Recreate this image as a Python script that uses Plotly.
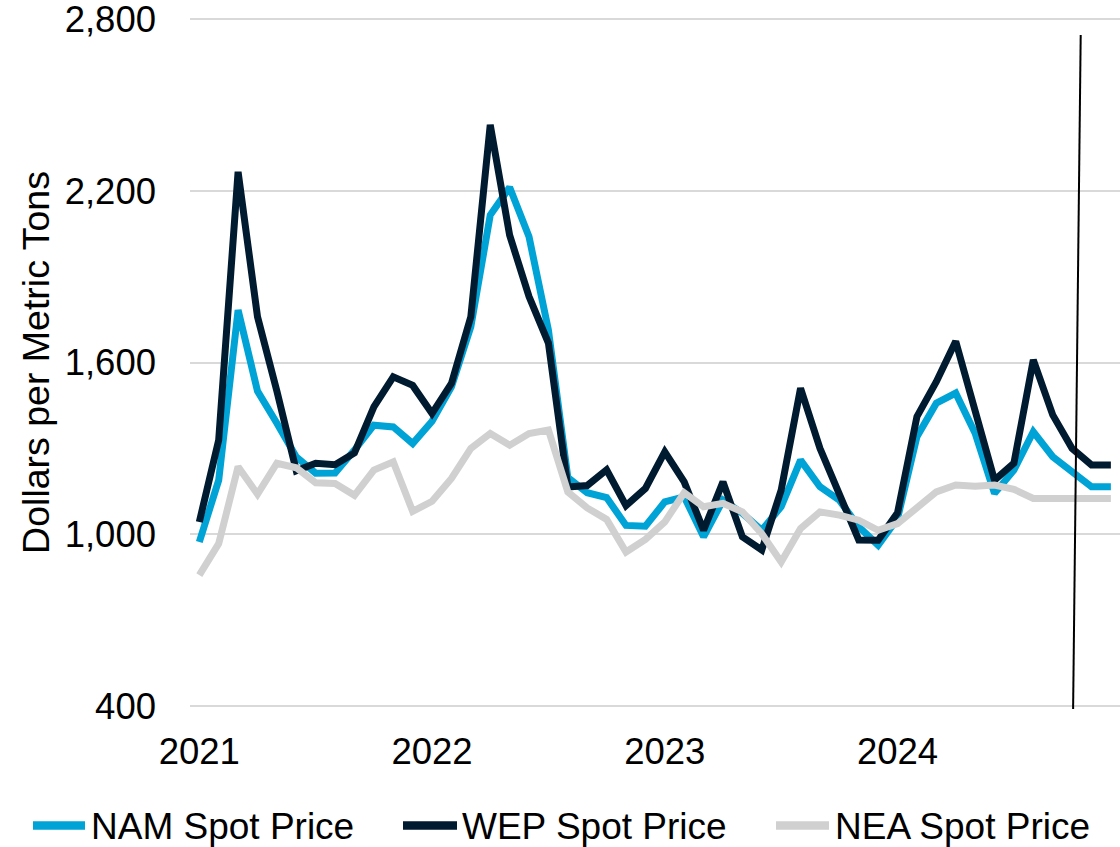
import plotly.graph_objects as go

# ---- data ----
months = [f"{y}-{m:02d}" for y in (2021, 2022, 2023, 2024) for m in range(1, 13)]

nam = [973, 1189, 1783, 1500, 1388, 1270, 1213, 1214, 1294, 1381, 1375, 1317,
       1395, 1515, 1725, 2115, 2212, 2039, 1713, 1198, 1145, 1128, 1031, 1028,
       1113, 1131, 991, 1119, 1073, 1014, 1096, 1259, 1166, 1119, 1026, 962,
       1055, 1341, 1458, 1493, 1353, 1143, 1224, 1358, 1271, 1219, 1166, 1166]

wep = [1043, 1329, 2266, 1760, 1500, 1222, 1248, 1243, 1284, 1445, 1550, 1520,
       1422, 1527, 1760, 2430, 2045, 1830, 1668, 1165, 1170, 1225, 1100, 1160,
       1288, 1183, 1014, 1183, 991, 945, 1154, 1510, 1300, 1140, 980, 979,
       1075, 1411, 1533, 1674, 1434, 1189, 1248, 1609, 1417, 1300, 1242, 1242]

nea = [857, 967, 1236, 1140, 1248, 1232, 1180, 1177, 1136, 1224, 1253, 1080,
       1115, 1195, 1300, 1352, 1311, 1352, 1364, 1148, 1092, 1052, 938, 982,
       1043, 1145, 1096, 1108, 1078, 1002, 903, 1020, 1078, 1067, 1049, 1014,
       1037, 1096, 1148, 1172, 1168, 1172, 1157, 1125, 1123, 1123, 1125, 1125]

series_names = ["NAM Spot Price", "WEP Spot Price", "NEA Spot Price"]
series_colors = ["#00A3D6", "#001A30", "#CFD0CF"]

x_tickvals = ["2021-01", "2022-01", "2023-01", "2024-01"]
x_ticktext = ["2021", "2022", "2023", "2024"]
y_tickvals = [400, 1000, 1600, 2200, 2800]

# ---- layout geometry ----
W, H = 1120, 847
ML, MR, MT, MB = 190, 0, 16, 138
PW, PH = W - ML - MR, H - MT - MB
Y_PAD = 3 * 2400 / 687.0          # 3 px of headroom in data units
FONT = "Liberation Sans, Arial, sans-serif"


def px_x(px):
    return (px - ML) / PW


def px_y(py):
    return (H - MB - py) / PH


fig = go.Figure()
for vals, name, col in zip([nam, wep, nea], series_names, series_colors):
    fig.add_trace(go.Scatter(x=months, y=vals, mode="lines", name=name,
                             line=dict(color=col, width=7),
                             showlegend=False))

shapes = []
annotations = []
# vertical marker line
shapes.append(dict(type="line", xref="paper", yref="paper",
                   x0=px_x(1080.7), y0=px_y(35), x1=px_x(1073.1), y1=px_y(709),
                   line=dict(color="black", width=2)))

# custom legend
legend_pos = [(30, 88, 89), (400, 460, 460), (773, 832, 833)]
leg_y = 825.5
for (x0, x1, xt), name, col in zip(legend_pos, series_names, series_colors):
    shapes.append(dict(type="line", xref="paper", yref="paper",
                       x0=px_x(x0 + 3), x1=px_x(x1 - 3), y0=px_y(leg_y), y1=px_y(leg_y),
                       line=dict(color=col, width=8.5)))
    annotations.append(dict(xref="paper", yref="paper", x=px_x(xt), y=px_y(leg_y + 1),
                            xanchor="left", yanchor="middle", showarrow=False,
                            text=name, font=dict(family=FONT, size=37, color="black")))

fig.update_layout(
    width=W, height=H,
    margin=dict(l=ML, r=MR, t=MT, b=MB, pad=0),
    paper_bgcolor="white", plot_bgcolor="white",
    font=dict(family=FONT, size=36, color="black"),
    showlegend=False,
    shapes=shapes,
    annotations=annotations,
    xaxis=dict(type="category", range=[-0.48, 47.47], tickvals=x_tickvals,
               ticktext=x_ticktext, showgrid=False, zeroline=False, showline=False,
               ticks="", ticklabelstandoff=17, automargin=False,
               tickfont=dict(family=FONT, size=36.5, color="black")),
    yaxis=dict(range=[400 - Y_PAD, 2800 + Y_PAD], tickvals=y_tickvals, tickformat=",",
               showgrid=True, gridcolor="#D9D9D9", gridwidth=2, zeroline=False,
               showline=False, ticks="", ticklabelstandoff=33, automargin=False,
               ticklabeloverflow="allow",
               tickfont=dict(family=FONT, size=36.5, color="black"),
               title=dict(text="Dollars per Metric Tons", standoff=3,
                          font=dict(family=FONT, size=37.5, color="black"))),
)

fig.write_html("out.html", config={"displayModeBar": False},
               post_script="document.body.style.margin='0';document.body.style.overflow='hidden';")
